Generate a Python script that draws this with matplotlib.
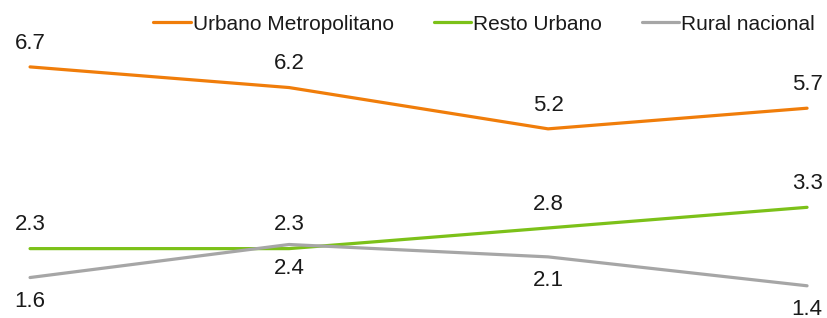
import matplotlib
matplotlib.use("Agg")
import matplotlib.pyplot as plt

plt.rcParams["font.family"] = ["Liberation Sans", "DejaVu Sans"]

# data
periods = [0, 1, 2, 3]
urbano_metro = [6.7, 6.2, 5.2, 5.7]
resto_urbano = [2.3, 2.3, 2.8, 3.3]
rural_nacional = [1.6, 2.4, 2.1, 1.4]

series = [
    ("Urbano Metropolitano", urbano_metro, "#F07D0A", 9.5),
    ("Resto Urbano", resto_urbano, "#7CC119", 9.5),
    ("Rural nacional", rural_nacional, "#A6A6A6", -9.5),
]

fig = plt.figure(figsize=(8.27, 3.18), dpi=100, facecolor="white")
ax = fig.add_axes([0, 0, 1, 1])

for name, values, color, offset in series:
    ax.plot(periods, values, color=color, lw=2.3, label=name,
            solid_capstyle="round")
    for x, y in zip(periods, values):
        ax.annotate(f"{y:.1f}", (x, y), xytext=(0, offset),
                    textcoords="offset points", ha="center",
                    va="bottom" if offset > 0 else "top",
                    fontsize=16, color="#1a1a1a")

ax.set_xlim(-0.116, 3.077)
ax.set_ylim(0.62, 8.32)
ax.axis("off")

leg = ax.legend(loc="upper right", bbox_to_anchor=(1.003, 1.0), ncol=3,
                frameon=False, fontsize=15, handlelength=1.8,
                handletextpad=0.1, columnspacing=1.9, borderaxespad=0.3)
for t in leg.get_texts():
    t.set_color("#1a1a1a")

fig.savefig("out.png", dpi=100, facecolor="white")
